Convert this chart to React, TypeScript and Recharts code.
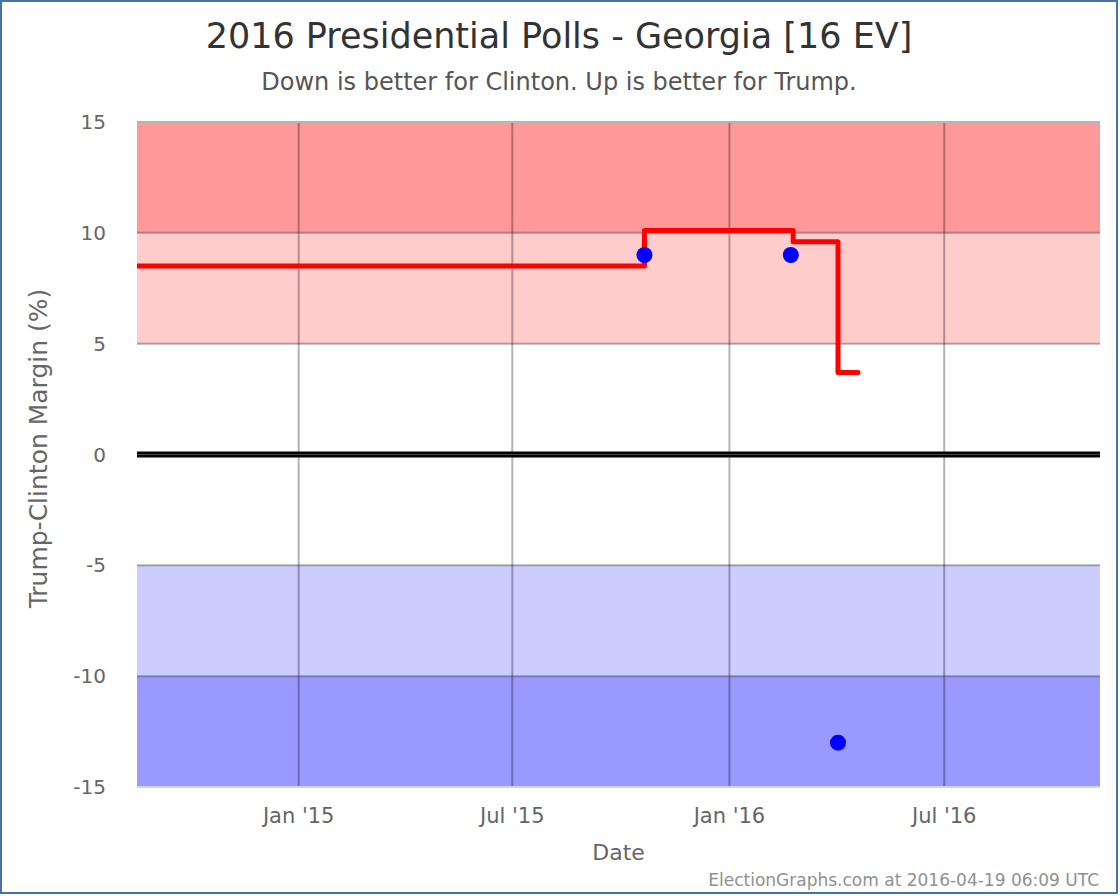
import React from "react";
import {
  ComposedChart,
  Line,
  Scatter,
  XAxis,
  YAxis,
  ReferenceArea,
  ReferenceLine,
} from "recharts";

const day = (y: number, m: number, d: number) => Date.UTC(y, m - 1, d);

// running average (step line)
const avgDates = [day(2014, 8, 17), day(2015, 10, 21), day(2016, 2, 24), day(2016, 4, 2), day(2016, 4, 19)];
const avgValues = [8.5, 10.1, 9.6, 3.7, 3.7];

// individual polls
const pollDates = [day(2015, 10, 21), day(2016, 2, 22), day(2016, 4, 2)];
const pollValues = [9, 9, -13];

const xTicks = [day(2015, 1, 1), day(2015, 7, 1), day(2016, 1, 1), day(2016, 7, 1)];
const xTickLabels = ["Jan '15", "Jul '15", "Jan '16", "Jul '16"];
const yTicks = [-15, -10, -5, 0, 5, 10, 15];

const xDomain = [day(2014, 8, 17), day(2016, 11, 10)];

const bands = [
  { y1: 10, y2: 15, fill: "#ff9999" },
  { y1: 5, y2: 10, fill: "#ffcccc" },
  { y1: -10, y2: -5, fill: "#ccccff" },
  { y1: -15, y2: -10, fill: "#9999ff" },
];

const avgData = avgDates.map((t, i) => ({ t, v: avgValues[i] }));
const pollData = pollDates.map((t, i) => ({ t, v: pollValues[i] }));

const font = "'DejaVu Sans', sans-serif";
const gridStroke = "rgba(0,0,0,0.3)";

const Dot = (props: any) => <circle cx={props.cx} cy={props.cy} r={8} fill="#0000ff" />;

export default function App() {
  return (
    <div style={{ position: "absolute", left: 0, top: 0, width: 1120, height: 896, background: "#fff", fontFamily: font }}>
      <ComposedChart
        width={1120}
        height={896}
        margin={{ top: 122, right: 20, bottom: 69, left: 77 }}
        style={{ position: "absolute", left: 0, top: 0 }}
      >
        <XAxis
          dataKey="t"
          type="number"
          scale="time"
          domain={xDomain}
          ticks={xTicks}
          tickFormatter={(v: number) => xTickLabels[xTicks.indexOf(v)] ?? ""}
          allowDataOverflow
          height={40}
          tickSize={0}
          tickMargin={21}
          axisLine={{ stroke: "#ccd6eb", strokeWidth: 2 }}
          tick={{ fill: "#666", fontSize: 21, fontFamily: font }}
        />
        <YAxis
          dataKey="v"
          type="number"
          domain={[-15, 15]}
          ticks={yTicks}
          width={60}
          tickSize={0}
          tickMargin={31}
          axisLine={false}
          tick={{ fill: "#666", fontSize: 20, fontFamily: font }}
        />
        {bands.map((b) => (
          <ReferenceArea key={b.y1} y1={b.y1} y2={b.y2} fill={b.fill} fillOpacity={1} stroke="none" />
        ))}
        {xTicks.map((t) => (
          <ReferenceLine key={"x" + t} x={t} stroke={gridStroke} strokeWidth={2} />
        ))}
        {yTicks
          .filter((v) => v !== -15 && v !== 0)
          .map((v) => (
            <ReferenceLine key={"y" + v} y={v} stroke={v === 15 ? "#b4b4b4" : gridStroke} strokeWidth={2} />
          ))}
        <ReferenceLine y={0} stroke="#000" strokeWidth={6} />
        <ReferenceLine y={0} stroke="#444" strokeWidth={1} />
        <Line
          data={avgData}
          dataKey="v"
          type="stepAfter"
          stroke="#ff0000"
          strokeWidth={5}
          strokeLinecap="round"
          strokeLinejoin="round"
          dot={false}
          activeDot={false}
          isAnimationActive={false}
        />
        <Scatter data={pollData} dataKey="v" shape={Dot} isAnimationActive={false} />
      </ComposedChart>

      <div style={{ position: "absolute", left: 0, width: 1118, top: 19, textAlign: "center", fontSize: 35, lineHeight: "35px", color: "#333" }}>
        2016 Presidential Polls - Georgia [16 EV]
      </div>
      <div style={{ position: "absolute", left: 0, width: 1118, top: 70, textAlign: "center", fontSize: 24, lineHeight: "24px", color: "#555" }}>
        Down is better for Clinton. Up is better for Trump.
      </div>
      <div
        style={{
          position: "absolute",
          left: 38 - 250,
          top: 448 - 12.5,
          width: 500,
          height: 25,
          textAlign: "center",
          fontSize: 25,
          lineHeight: "25px",
          color: "#666",
          transform: "rotate(-90deg)",
        }}
      >
        Trump-Clinton Margin (%)
      </div>
      <div style={{ position: "absolute", left: 137, width: 963, top: 842, textAlign: "center", fontSize: 22, lineHeight: "22px", color: "#666" }}>
        Date
      </div>
      <div style={{ position: "absolute", right: 21, top: 872, fontSize: 17, lineHeight: "17px", color: "#909090" }}>
        ElectionGraphs.com at 2016-04-19 06:09 UTC
      </div>
      <div
        style={{
          position: "absolute",
          left: 0,
          top: 0,
          width: 1118,
          height: 894,
          boxSizing: "border-box",
          border: "2px solid #4572a7",
          pointerEvents: "none",
        }}
      />
    </div>
  );
}
